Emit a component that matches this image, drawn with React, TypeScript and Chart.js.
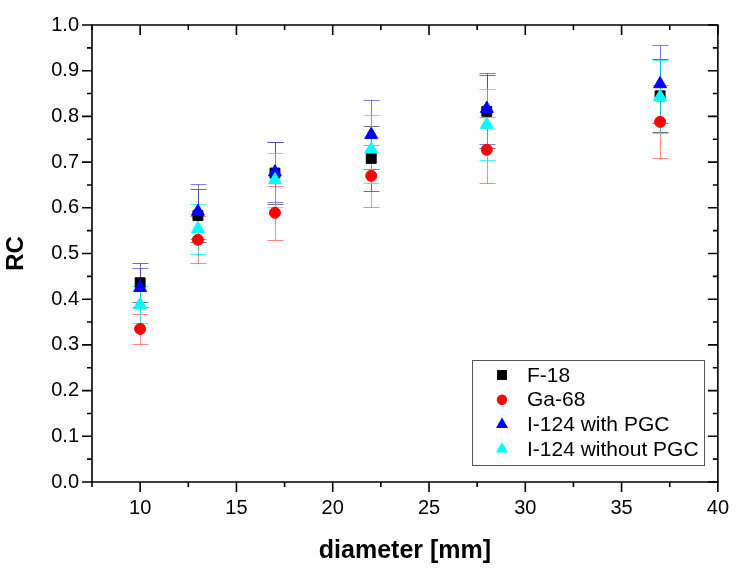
import React, { useEffect, useRef } from 'react';
import { Chart, registerables } from 'chart.js';

Chart.register(...registerables);

const DIAMETERS = [10, 13, 17, 22, 28, 37];
const SERIES_LABELS = ['F-18', 'Ga-68', 'I-124 with PGC', 'I-124 without PGC'];
const F18 = [0.436, 0.583, 0.676, 0.708, 0.811, 0.845];
const F18_ERR = [0.043, 0.058, 0.068, 0.071, 0.08, 0.08];
const GA68 = [0.335, 0.53, 0.589, 0.67, 0.727, 0.788];
const GA68_ERR = [0.033, 0.051, 0.059, 0.068, 0.072, 0.08];
const I124_PGC = [0.425, 0.592, 0.678, 0.76, 0.817, 0.871];
const I124_PGC_ERR = [0.043, 0.06, 0.065, 0.075, 0.078, 0.086];
const I124_NOPGC = [0.388, 0.554, 0.661, 0.728, 0.782, 0.843];
const I124_NOPGC_ERR = [0.04, 0.054, 0.06, 0.074, 0.077, 0.08];

const X_TICKS = [10, 15, 20, 25, 30, 35, 40];
const X_MINOR = [7.5, 12.5, 17.5, 22.5, 27.5, 32.5, 37.5];
const Y_TICKS = [0, 0.1, 0.2, 0.3, 0.4, 0.5, 0.6, 0.7, 0.8, 0.9, 1.0];
const Y_MINOR = [0.05, 0.15, 0.25, 0.35, 0.45, 0.55, 0.65, 0.75, 0.85, 0.95];

const SERIES_VALUES = [F18, GA68, I124_PGC, I124_NOPGC];
const SERIES_ERRORS = [F18_ERR, GA68_ERR, I124_PGC_ERR, I124_NOPGC_ERR];
const SERIES_COLORS = ['#000000', '#ff0000', '#0000ff', '#00ffff'];
const ERROR_COLORS = ['rgba(0,0,0,0.55)', 'rgba(255,40,40,0.55)', 'rgba(70,50,200,0.65)', 'rgba(0,240,240,0.7)'];
const POINT_STYLES = ['rect', 'circle', 'triangle', 'triangle'];
const POINT_RADII = [7, 5.5, 7.5, 7.5];

const FONT = '"Liberation Sans", Arial, sans-serif';

function drawMarker(ctx: CanvasRenderingContext2D, style: string, x: number, y: number, r: number, color: string) {
  ctx.save();
  ctx.fillStyle = color;
  ctx.beginPath();
  if (style === 'rect') {
    const s = r * Math.SQRT1_2;
    ctx.rect(x - s, y - s, 2 * s, 2 * s);
  } else if (style === 'circle') {
    ctx.arc(x, y, r, 0, Math.PI * 2);
  } else {
    ctx.moveTo(x, y - r);
    ctx.lineTo(x + r * Math.sin((2 * Math.PI) / 3), y - r * Math.cos((2 * Math.PI) / 3));
    ctx.lineTo(x + r * Math.sin((4 * Math.PI) / 3), y - r * Math.cos((4 * Math.PI) / 3));
    ctx.closePath();
  }
  ctx.fill();
  ctx.restore();
}

const errorBarPlugin = {
  id: 'errorBars',
  beforeDatasetsDraw(chart: any) {
    const { ctx, scales } = chart;
    const xs = scales.x;
    const ys = scales.y;
    ctx.save();
    ctx.lineWidth = 1;
    SERIES_VALUES.forEach((vals, i) => {
      ctx.strokeStyle = ERROR_COLORS[i];
      vals.forEach((v, j) => {
        const e = SERIES_ERRORS[i][j];
        const x = Math.round(xs.getPixelForValue(DIAMETERS[j])) + 0.5;
        const yt = Math.round(ys.getPixelForValue(v + e)) + 0.5;
        const yb = Math.round(ys.getPixelForValue(v - e)) + 0.5;
        ctx.beginPath();
        ctx.moveTo(x, yt);
        ctx.lineTo(x, yb);
        ctx.moveTo(x - 8, yt);
        ctx.lineTo(x + 8, yt);
        ctx.moveTo(x - 8, yb);
        ctx.lineTo(x + 8, yb);
        ctx.stroke();
      });
    });
    ctx.restore();
  },
};

const framePlugin = {
  id: 'frame',
  afterDraw(chart: any) {
    const { ctx, chartArea, scales } = chart;
    const { left, right, top, bottom } = chartArea;
    const xs = scales.x;
    const ys = scales.y;
    ctx.save();
    ctx.strokeStyle = '#000';
    ctx.lineWidth = 1.6;
    ctx.beginPath();
    ctx.rect(left, top, right - left, bottom - top);
    ctx.stroke();
    ctx.beginPath();
    const tick = (vals: number[], len: number) => {
      vals.forEach((v) => {
        const x = xs.getPixelForValue(v);
        ctx.moveTo(x, bottom);
        ctx.lineTo(x, bottom + len);
        ctx.moveTo(x, top);
        ctx.lineTo(x, top + len);
      });
    };
    const ytick = (vals: number[], len: number) => {
      vals.forEach((v) => {
        const y = ys.getPixelForValue(v);
        ctx.moveTo(left, y);
        ctx.lineTo(left - len, y);
        ctx.moveTo(right, y);
        ctx.lineTo(right - len, y);
      });
    };
    tick(X_TICKS, 10);
    tick(X_MINOR, 5);
    ytick(Y_TICKS, 10);
    ytick(Y_MINOR, 5);
    ctx.stroke();
    ctx.restore();
  },
};

const legendPlugin = {
  id: 'boxLegend',
  afterDraw(chart: any) {
    const { ctx } = chart;
    const bx = 472;
    const by = 360;
    const bw = 232;
    const bh = 105;
    ctx.save();
    ctx.fillStyle = '#fff';
    ctx.fillRect(bx, by, bw, bh);
    ctx.strokeStyle = '#555';
    ctx.lineWidth = 1;
    ctx.strokeRect(bx + 0.5, by + 0.5, bw, bh);
    ctx.font = `21px ${FONT}`;
    ctx.textBaseline = 'middle';
    ctx.textAlign = 'left';
    SERIES_LABELS.forEach((label, i) => {
      const y = by + 15 + i * 24.7;
      drawMarker(ctx, POINT_STYLES[i], 502, y, POINT_STYLES[i] === 'circle' ? 5.2 : 7, SERIES_COLORS[i]);
      ctx.fillStyle = '#000';
      ctx.fillText(label, 527, y + 1);
    });
    ctx.restore();
  },
};

export default function App() {
  const canvasRef = useRef<HTMLCanvasElement | null>(null);

  useEffect(() => {
    if (!canvasRef.current) return;
    const datasets = SERIES_LABELS.map((label, i) => ({
      label,
      data: DIAMETERS.map((d, j) => ({ x: d, y: SERIES_VALUES[i][j] })),
      pointStyle: POINT_STYLES[i],
      pointRadius: POINT_RADII[i],
      pointHoverRadius: POINT_RADII[i],
      backgroundColor: SERIES_COLORS[i],
      borderColor: SERIES_COLORS[i],
      pointBorderWidth: 1,
      showLine: false,
      order: SERIES_LABELS.length - 1 - i,
    }));
    const chart = new Chart(canvasRef.current, {
      type: 'scatter',
      data: { datasets },
      plugins: [errorBarPlugin, framePlugin, legendPlugin],
      options: {
        animation: false,
        responsive: false,
        layout: { padding: { top: 16, right: 19, left: 0, bottom: 0 } },
        plugins: { legend: { display: false }, tooltip: { enabled: false } },
        scales: {
          x: {
            type: 'linear',
            min: 7.5,
            max: 40,
            grid: { display: false, drawTicks: false },
            border: { display: false },
            afterBuildTicks: (s: any) => {
              s.ticks = X_TICKS.map((v) => ({ value: v }));
            },
            afterFit: (s: any) => {
              s.height = 89;
            },
            ticks: {
              padding: 14,
              color: '#000',
              font: { family: FONT, size: 20 },
              maxRotation: 0,
              callback: (v: any) => String(v),
            },
            title: {
              display: true,
              text: 'diameter [mm]',
              color: '#000',
              font: { family: FONT, size: 25, weight: 'bold' },
              padding: { top: 0, bottom: 5 },
            },
          },
          y: {
            type: 'linear',
            min: 0,
            max: 1,
            grid: { display: false, drawTicks: false },
            border: { display: false },
            afterBuildTicks: (s: any) => {
              s.ticks = Y_TICKS.map((v) => ({ value: v }));
            },
            afterFit: (s: any) => {
              s.width = 92;
            },
            ticks: {
              padding: 13,
              color: '#000',
              font: { family: FONT, size: 20 },
              callback: (v: any) => Number(v).toFixed(1),
            },
            title: {
              display: true,
              text: 'RC',
              color: '#000',
              font: { family: FONT, size: 24, weight: 'bold' },
              padding: { top: 2, bottom: 0 },
            },
          },
        },
      } as any,
    });
    return () => chart.destroy();
  }, []);

  return (
    <div style={{ position: 'absolute', left: 0, top: 0, width: 743, height: 571, background: '#fff' }}>
      <canvas ref={canvasRef} width={743} height={571} />
    </div>
  );
}
